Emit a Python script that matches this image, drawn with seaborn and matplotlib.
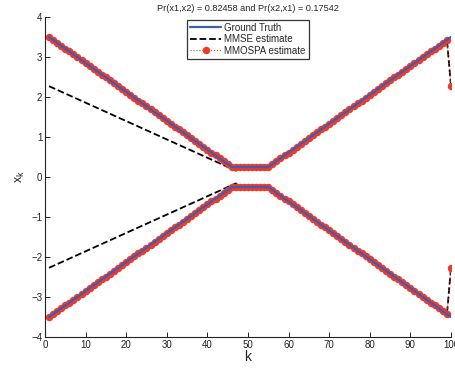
import matplotlib
matplotlib.use("Agg")
import matplotlib.pyplot as plt
import seaborn as sns
import numpy as np

# ---- data ---------------------------------------------------------------
title_text = "Pr(x1,x2) = 0.82458 and Pr(x2,x1) = 0.17542"

# Ground truth tracks (piecewise linear, given by their corner points)
gt_k = [1, 46, 55, 100]
gt_upper = [3.5, 0.25, 0.25, 3.5]
gt_lower = [-3.5, -0.25, -0.25, -3.5]

# MMSE estimate (corner points; after k=48 it coincides with the truth)
mmse_k = [1, 47, 48, 55, 99, 100]
mmse_upper = [2.27, 0.16, 0.25, 0.25, 3.43, 2.27]
mmse_lower = [-2.27, -0.16, -0.25, -0.25, -3.43, -2.27]

# MMOSPA estimate, one value per time step k = 1..100
k_steps = list(range(1, 101))
mmospa_upper = [
    3.50, 3.43, 3.36, 3.28, 3.21, 3.14, 3.07, 2.99, 2.92, 2.85,
    2.78, 2.71, 2.63, 2.56, 2.49, 2.42, 2.34, 2.27, 2.20, 2.13,
    2.06, 1.98, 1.91, 1.84, 1.77, 1.69, 1.62, 1.55, 1.48, 1.41,
    1.33, 1.26, 1.19, 1.12, 1.04, 0.97, 0.90, 0.83, 0.76, 0.68,
    0.61, 0.54, 0.47, 0.39, 0.32, 0.25, 0.25, 0.25, 0.25, 0.25,
    0.25, 0.25, 0.25, 0.25, 0.25, 0.32, 0.39, 0.47, 0.54, 0.61,
    0.68, 0.76, 0.83, 0.90, 0.97, 1.04, 1.12, 1.19, 1.26, 1.33,
    1.41, 1.48, 1.55, 1.62, 1.69, 1.77, 1.84, 1.91, 1.98, 2.06,
    2.13, 2.20, 2.27, 2.34, 2.42, 2.49, 2.56, 2.63, 2.71, 2.78,
    2.85, 2.92, 2.99, 3.07, 3.14, 3.21, 3.28, 3.36, 3.43, 2.27,
]
mmospa_lower = [
    -3.50, -3.43, -3.36, -3.28, -3.21, -3.14, -3.07, -2.99, -2.92, -2.85,
    -2.78, -2.71, -2.63, -2.56, -2.49, -2.42, -2.34, -2.27, -2.20, -2.13,
    -2.06, -1.98, -1.91, -1.84, -1.77, -1.69, -1.62, -1.55, -1.48, -1.41,
    -1.33, -1.26, -1.19, -1.12, -1.04, -0.97, -0.90, -0.83, -0.76, -0.68,
    -0.61, -0.54, -0.47, -0.39, -0.32, -0.25, -0.25, -0.25, -0.25, -0.25,
    -0.25, -0.25, -0.25, -0.25, -0.25, -0.32, -0.39, -0.47, -0.54, -0.61,
    -0.68, -0.76, -0.83, -0.90, -0.97, -1.04, -1.12, -1.19, -1.26, -1.33,
    -1.41, -1.48, -1.55, -1.62, -1.69, -1.77, -1.84, -1.91, -1.98, -2.06,
    -2.13, -2.20, -2.27, -2.34, -2.42, -2.49, -2.56, -2.63, -2.71, -2.78,
    -2.85, -2.92, -2.99, -3.07, -3.14, -3.21, -3.28, -3.36, -3.43, -2.27,
]

x_ticks = list(range(0, 101, 10))
y_ticks = list(range(-4, 5))

# ---- style --------------------------------------------------------------
sns.set_style("ticks")
plt.rcParams["font.family"] = ["Liberation Sans", "DejaVu Sans"]
plt.rcParams["mathtext.fontset"] = "custom"
plt.rcParams["mathtext.rm"] = "Liberation Sans"

BLUE = "#3b5db3"
RED = "#ee3a2b"
BLACK = "#000000"

fig = plt.figure(figsize=(4.56, 3.69), dpi=100)
ax = fig.add_axes([45 / 456, 1 - 337 / 369, 406 / 456, 320 / 369])

common = dict(ax=ax, estimator=None, sort=False, legend=False)

# MMSE: black dashed (drawn underneath the other estimates)
for i, yv in enumerate([mmse_upper, mmse_lower]):
    sns.lineplot(x=mmse_k, y=yv, color=BLACK, linewidth=1.3, zorder=1.5,
                 dashes=(3.2, 2.6), linestyle="--",
                 label="MMSE estimate" if i == 0 else "_nolegend_", **common)

# MMOSPA: red dotted line with round markers at every step
for i, yv in enumerate([mmospa_upper, mmospa_lower]):
    sns.lineplot(x=k_steps, y=yv, color=RED, linestyle=":", linewidth=0.8,
                 marker="o", markersize=5.4, markeredgewidth=0,
                 markerfacecolor=RED, zorder=2,
                 label="MMOSPA estimate" if i == 0 else "_nolegend_", **common)

# Ground truth: solid blue
for i, yv in enumerate([gt_upper, gt_lower]):
    sns.lineplot(x=gt_k, y=yv, color=BLUE, linewidth=1.6, zorder=3,
                 label="Ground Truth" if i == 0 else "_nolegend_", **common)

ax.set_xlim(0, 100)
ax.set_ylim(-4, 4)
ax.set_xticks(x_ticks)
ax.set_yticks(y_ticks)
ax.tick_params(direction="in", length=3.5, width=0.7, labelsize=7, pad=2,
               colors="#222222")
for side in ("top", "right"):
    ax.spines[side].set_visible(False)
for side in ("left", "bottom"):
    ax.spines[side].set_linewidth(0.8)
    ax.spines[side].set_color("#222222")

ax.set_xlabel("k", fontsize=10, labelpad=0)
ax.set_ylabel(r"x$_{\mathrm{k}}$", fontsize=9, labelpad=3)
ax.set_title(title_text, fontsize=6.6, pad=4)

handles, labels = ax.get_legend_handles_labels()
order = ["Ground Truth", "MMSE estimate", "MMOSPA estimate"]
hmap = dict(zip(labels, handles))
leg = ax.legend([hmap[o] for o in order], order, loc="upper center",
                bbox_to_anchor=(0.5, 1.0), fontsize=7, frameon=True,
                fancybox=False, shadow=False, handlelength=3.2,
                handletextpad=0.3, borderpad=0.3, labelspacing=0.15,
                borderaxespad=0.3)
leg.get_frame().set_edgecolor("black")
leg.get_frame().set_linewidth(0.9)

fig.savefig("out.png", dpi=100)
